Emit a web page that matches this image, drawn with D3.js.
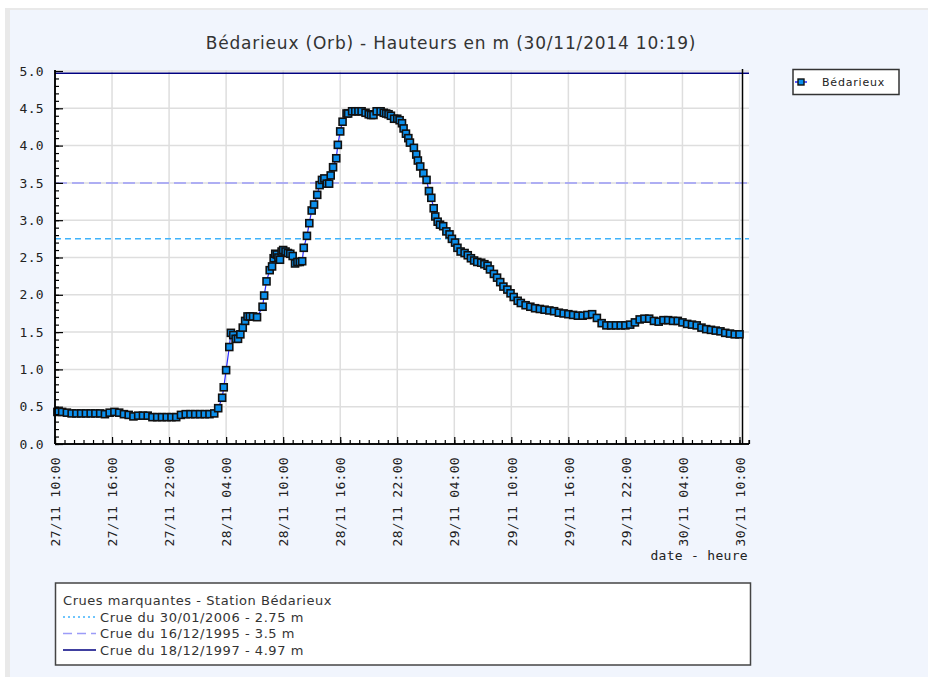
<!DOCTYPE html>
<html>
<head>
<meta charset="utf-8">
<script src="https://cdn.jsdelivr.net/npm/d3@7"></script>
<style>
  html, body { margin: 0; padding: 0; background: #ffffff; }
  svg { display: block; }
</style>
</head>
<body>
<svg id="chart" width="928" height="677"></svg>
<script>
// ---------------- DATA ----------------
const chartTitle = "Bédarieux (Orb) - Hauteurs en m (30/11/2014 10:19)";
const seriesName = "Bédarieux";
const nowTime = "30/11 10:19";
const xDomain = ["27/11 10:00", "30/11 11:00"];
const yDomain = [0, 5];
const yTickValues = [0, 0.5, 1, 1.5, 2, 2.5, 3, 3.5, 4, 4.5, 5];
const xTickLabels = ["27/11 10:00", "27/11 16:00", "27/11 22:00", "28/11 04:00", "28/11 10:00",
  "28/11 16:00", "28/11 22:00", "29/11 04:00", "29/11 10:00", "29/11 16:00", "29/11 22:00",
  "30/11 04:00", "30/11 10:00"];

const times = [
  "27/11 10:15","27/11 10:45","27/11 11:15","27/11 11:45","27/11 12:15","27/11 12:45",
  "27/11 13:15","27/11 13:45","27/11 14:15","27/11 14:45","27/11 15:15","27/11 15:45",
  "27/11 16:15","27/11 16:45","27/11 17:15","27/11 17:45","27/11 18:15","27/11 18:45",
  "27/11 19:15","27/11 19:45","27/11 20:15","27/11 20:45","27/11 21:15","27/11 21:45",
  "27/11 22:15","27/11 22:45","27/11 23:15","27/11 23:45","28/11 00:15","28/11 00:45",
  "28/11 01:15","28/11 01:45","28/11 02:15","28/11 02:45",
  "28/11 03:10","28/11 03:35","28/11 03:45","28/11 04:00","28/11 04:20","28/11 04:30",
  "28/11 04:45","28/11 05:00","28/11 05:15","28/11 05:30","28/11 05:45","28/11 06:00",
  "28/11 06:15","28/11 06:30","28/11 06:50","28/11 07:15","28/11 07:50","28/11 08:00",
  "28/11 08:15","28/11 08:35","28/11 08:50","28/11 09:00","28/11 09:10","28/11 09:20",
  "28/11 09:30","28/11 09:40","28/11 09:50","28/11 10:00","28/11 10:15","28/11 10:30",
  "28/11 10:45","28/11 11:00","28/11 11:15","28/11 11:30","28/11 11:45","28/11 12:00",
  "28/11 12:10","28/11 12:30","28/11 12:45","28/11 13:00","28/11 13:15","28/11 13:35",
  "28/11 13:50","28/11 14:05","28/11 14:20","28/11 14:35","28/11 14:50","28/11 15:00",
  "28/11 15:15","28/11 15:35","28/11 15:45","28/11 16:00","28/11 16:15","28/11 16:40",
  "28/11 16:50","28/11 17:15","28/11 17:35","28/11 17:55","28/11 18:15","28/11 18:40",
  "28/11 19:00","28/11 19:15","28/11 19:30","28/11 19:50","28/11 20:15","28/11 20:35",
  "28/11 20:50","28/11 21:05","28/11 21:20","28/11 21:40","28/11 22:00","28/11 22:15",
  "28/11 22:30","28/11 22:40","28/11 22:55","28/11 23:10","28/11 23:20","28/11 23:45",
  "29/11 00:00","29/11 00:10","29/11 00:25","29/11 00:45","29/11 01:05","29/11 01:20",
  "29/11 01:35","29/11 01:50","29/11 02:00","29/11 02:15","29/11 02:30","29/11 02:50",
  "29/11 03:10","29/11 03:30","29/11 03:45","29/11 04:05","29/11 04:20","29/11 04:40",
  "29/11 05:05","29/11 05:25","29/11 05:45","29/11 06:05","29/11 06:25","29/11 06:50",
  "29/11 07:10","29/11 07:30","29/11 07:45","29/11 08:10","29/11 08:30","29/11 08:50",
  "29/11 09:10","29/11 09:35","29/11 09:55","29/11 10:15","29/11 10:40",
  "29/11 11:00","29/11 11:30","29/11 12:00","29/11 12:30","29/11 13:00","29/11 13:30",
  "29/11 14:00","29/11 14:30","29/11 15:00","29/11 15:30","29/11 16:00","29/11 16:30",
  "29/11 17:00","29/11 17:30","29/11 18:00","29/11 18:30","29/11 19:00","29/11 19:30",
  "29/11 20:00","29/11 20:30","29/11 21:00","29/11 21:30","29/11 22:00","29/11 22:30",
  "29/11 23:00","29/11 23:30","30/11 00:00","30/11 00:30","30/11 01:00","30/11 01:30",
  "30/11 02:00","30/11 02:30","30/11 03:00","30/11 03:30","30/11 04:00","30/11 04:30",
  "30/11 05:00","30/11 05:30","30/11 06:00","30/11 06:30","30/11 07:00","30/11 07:30",
  "30/11 08:00","30/11 08:30","30/11 09:00","30/11 09:30","30/11 10:00"
];
const heights = [
  0.43,0.43,0.42,0.41,0.41,0.41,
  0.41,0.41,0.41,0.41,0.40,0.42,
  0.43,0.42,0.40,0.39,0.37,0.38,
  0.38,0.38,0.36,0.36,0.36,0.36,
  0.36,0.36,0.39,0.40,0.40,0.40,
  0.40,0.40,0.40,0.41,
  0.48,0.62,0.76,0.99,1.30,1.49,
  1.46,1.41,1.41,1.47,1.56,1.65,
  1.71,1.71,1.71,1.70,1.84,1.99,
  2.18,2.33,2.38,2.49,2.55,2.54,
  2.50,2.47,2.58,2.60,2.58,2.56,
  2.55,2.52,2.42,2.44,2.44,2.45,
  2.63,2.79,2.96,3.13,3.21,3.34,
  3.47,3.54,3.56,3.49,3.49,3.60,
  3.71,3.83,4.01,4.19,4.32,4.43,
  4.43,4.46,4.46,4.46,4.46,4.44,
  4.42,4.41,4.41,4.46,4.46,4.44,
  4.43,4.42,4.40,4.36,4.36,4.34,
  4.30,4.23,4.16,4.10,4.04,3.97,
  3.88,3.80,3.72,3.63,3.54,3.39,
  3.30,3.16,3.05,2.98,2.94,2.92,
  2.85,2.81,2.75,2.70,2.63,2.58,
  2.56,2.53,2.49,2.46,2.44,2.43,
  2.41,2.39,2.34,2.28,2.23,2.17,
  2.11,2.07,2.02,1.97,1.92,
  1.89,1.86,1.84,1.82,1.81,1.80,
  1.79,1.78,1.76,1.75,1.74,1.73,
  1.72,1.72,1.73,1.74,1.69,1.62,
  1.59,1.59,1.59,1.59,1.59,1.60,
  1.63,1.67,1.68,1.68,1.65,1.64,
  1.66,1.66,1.65,1.65,1.63,1.61,
  1.60,1.59,1.56,1.54,1.53,1.52,
  1.51,1.49,1.48,1.47,1.47
];

const refTitle = "Crues marquantes - Station Bédarieux";
const refLabels = ["Crue du 30/01/2006 - 2.75 m", "Crue du 16/12/1995 - 3.5 m", "Crue du 18/12/1997 - 4.97 m"];
const refValues = [2.75, 3.5, 4.97];
const xAxisTitle = "date - heure";

// ---------------- SETUP ----------------
const parse = s => d3.timeParse("%Y %d/%m %H:%M")("2014 " + s);
const data = times.map((t, i) => ({ t: parse(t), v: heights[i] }));

const svg = d3.select("#chart");
const monoFont = "'DejaVu Sans Mono', monospace";
const sansFont = "'DejaVu Sans', Verdana, sans-serif";

// panel background
svg.append("rect").attr("x", 5).attr("y", 8).attr("width", 930).attr("height", 680).attr("fill", "#e9e9e9");
svg.append("rect").attr("x", 10).attr("y", 10).attr("width", 920).attr("height", 670).attr("fill", "#f1f5fd");

const L = 55, R = 749, T = 71, B = 444;
const x = d3.scaleTime().domain(xDomain.map(parse)).range([L, R]);
const y = d3.scaleLinear().domain(yDomain).range([B, T]);

// plot background
svg.append("rect").attr("x", L).attr("y", T - 1).attr("width", R - L).attr("height", B - T + 1).attr("fill", "#ffffff");

// grid
const majorTimes = xTickLabels.map(parse);
const grid = svg.append("g");
grid.selectAll("line.v").data(majorTimes).join("line")
  .attr("x1", d => x(d)).attr("x2", d => x(d)).attr("y1", T - 1).attr("y2", B)
  .attr("stroke", "#dedede").attr("stroke-width", 1.5);
grid.selectAll("line.h").data(yTickValues).join("line")
  .attr("x1", L).attr("x2", R).attr("y1", d => y(d)).attr("y2", d => y(d))
  .attr("stroke", "#dedede").attr("stroke-width", 1.5);

// reference lines
const refStyles = [
  { color: "#3fb3fb", dash: "6,4", width: 1.5 },
  { color: "#9c9cf8", dash: "12,5", width: 1.5 },
  { color: "#000080", dash: null, width: 1.5 }
];
refValues.forEach((v, i) => {
  svg.append("line").attr("x1", L).attr("x2", R).attr("y1", y(v)).attr("y2", y(v))
    .attr("stroke", refStyles[i].color).attr("stroke-width", refStyles[i].width)
    .attr("stroke-dasharray", refStyles[i].dash);
});

// now line
svg.append("line").attr("x1", x(parse(nowTime))).attr("x2", x(parse(nowTime)))
  .attr("y1", T - 2).attr("y2", B).attr("stroke", "#000").attr("stroke-width", 1.5);

// series line
const line = d3.line().x(d => x(d.t)).y(d => y(d.v));
svg.append("path").datum(data).attr("d", line).attr("fill", "none")
  .attr("stroke", "#2a2aff").attr("stroke-width", 1.2);

// markers
const ms = 7;
svg.append("g").selectAll("rect").data(data).join("rect")
  .attr("x", d => x(d.t) - ms / 2).attr("y", d => y(d.v) - ms / 2)
  .attr("width", ms).attr("height", ms)
  .attr("fill", "#0b8fec").attr("stroke", "#111").attr("stroke-width", 1.6);

// axes
const xMinor = d3.axisBottom(x).ticks(d3.timeHour.every(1)).tickSize(-4).tickFormat("");
const gxm = svg.append("g").attr("transform", `translate(0,${B})`).call(xMinor);
const xMajor = d3.axisBottom(x).tickValues(majorTimes).tickSize(-7)
  .tickFormat(d3.timeFormat("%d/%m %H:%M"));
const gx = svg.append("g").attr("transform", `translate(0,${B})`).call(xMajor);
[gxm, gx].forEach(g => {
  g.select(".domain").attr("stroke", "#000").attr("stroke-width", 1.5).attr("d", `M${L},0H${R}`);
  g.selectAll(".tick line").attr("stroke", "#000").attr("stroke-width", 1.2);
});
gx.selectAll(".tick text")
  .attr("transform", "rotate(-90)").attr("text-anchor", "end")
  .attr("x", -13).attr("y", 0).attr("dy", "0.36em")
  .attr("font-family", monoFont).attr("font-size", 13).attr("letter-spacing", "0.3px")
  .attr("fill", "#222");
gx.attr("font-family", null).attr("font-size", null);

const yMinorTicks = d3.range(0, 50).map(i => i / 10);
const yMinor = d3.axisLeft(y).tickValues(yMinorTicks).tickSize(-4).tickFormat("");
const gym = svg.append("g").attr("transform", `translate(${L},0)`).call(yMinor);
const yMajor = d3.axisLeft(y).tickValues(yTickValues).tickSize(-8).tickPadding(10)
  .tickFormat(d3.format(".1f"));
const gy = svg.append("g").attr("transform", `translate(${L},0)`).call(yMajor);
[gym, gy].forEach(g => {
  g.select(".domain").attr("stroke", "#000").attr("stroke-width", 1.5).attr("d", `M0,${B}V${T - 1}`);
  g.selectAll(".tick line").attr("stroke", "#000").attr("stroke-width", 1.2);
});
gy.selectAll(".tick text").attr("x", -11)
  .attr("font-family", monoFont).attr("font-size", 13).attr("letter-spacing", "0.3px")
  .attr("fill", "#222");
gy.attr("font-family", null).attr("font-size", null);
// end tick at right of x axis
svg.append("line").attr("x1", R).attr("x2", R).attr("y1", B).attr("y2", B - 4).attr("stroke", "#000").attr("stroke-width", 1.2);

// x axis title
svg.append("text").attr("x", R - 1).attr("y", 560).attr("text-anchor", "end")
  .attr("font-family", monoFont).attr("font-size", 13).attr("letter-spacing", "0.3px")
  .attr("fill", "#222").text(xAxisTitle);

// title
svg.append("text").attr("x", 451).attr("y", 49).attr("text-anchor", "middle")
  .attr("font-family", sansFont).attr("font-size", 17).attr("letter-spacing", "0.8px").attr("fill", "#333")
  .text(chartTitle);

// series legend (right)
const lg = svg.append("g");
lg.append("rect").attr("x", 793).attr("y", 69.5).attr("width", 106).attr("height", 25)
  .attr("fill", "#fff").attr("stroke", "#333").attr("stroke-width", 1.5);
lg.append("line").attr("x1", 795).attr("x2", 807).attr("y1", 82).attr("y2", 82)
  .attr("stroke", "#2a2aff").attr("stroke-width", 1.5);
lg.append("rect").attr("x", 798).attr("y", 79).attr("width", 6).attr("height", 6)
  .attr("fill", "#0b8fec").attr("stroke", "#111").attr("stroke-width", 1.4);
lg.append("text").attr("x", 822).attr("y", 86).attr("font-family", sansFont)
  .attr("font-size", 11).attr("letter-spacing", "0.8px").attr("fill", "#222").text(seriesName);

// reference legend (bottom)
const bg = svg.append("g");
bg.append("rect").attr("x", 55.5).attr("y", 583).attr("width", 695).attr("height", 82)
  .attr("fill", "#fff").attr("stroke", "#444").attr("stroke-width", 1.5);
bg.append("text").attr("x", 63).attr("y", 605).attr("font-family", sansFont)
  .attr("font-size", 13).attr("letter-spacing", "0.55px").attr("fill", "#333").text(refTitle);
const legStyles = [
  { color: "#3fb3fb", dash: "2,3" },
  { color: "#9c9cf8", dash: "9,5" },
  { color: "#000080", dash: null }
];
refLabels.forEach((lab, i) => {
  const yy = 617 + i * 16.5;
  bg.append("line").attr("x1", 63).attr("x2", 96).attr("y1", yy).attr("y2", yy)
    .attr("stroke", legStyles[i].color).attr("stroke-width", 1.4)
    .attr("stroke-dasharray", legStyles[i].dash);
  bg.append("text").attr("x", 100).attr("y", yy + 4.5).attr("font-family", sansFont)
    .attr("font-size", 13).attr("letter-spacing", "0.55px").attr("fill", "#333").text(lab);
});
</script>
</body>
</html>
